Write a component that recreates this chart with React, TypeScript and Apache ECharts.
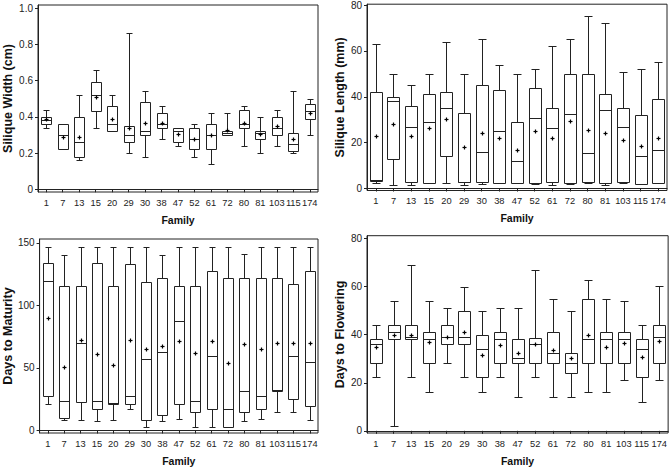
import React, { useEffect, useRef } from "react";
import * as echarts from "echarts";

const FONT = "'Liberation Sans', Arial, Helvetica, sans-serif";

const families = ["1", "7", "13", "15", "20", "29", "30", "38", "47", "52", "61", "72", "80", "81", "103", "115", "174"];

// each row: [min, Q1, median, Q3, max]
const siliqueWidthBox = [
  [0.34, 0.36, 0.38, 0.40, 0.44],
  [0.22, 0.22, 0.30, 0.36, 0.36],
  [0.16, 0.18, 0.26, 0.40, 0.52],
  [0.34, 0.43, 0.52, 0.59, 0.66],
  [0.32, 0.32, 0.36, 0.46, 0.52],
  [0.20, 0.26, 0.30, 0.35, 0.86],
  [0.18, 0.30, 0.32, 0.48, 0.54],
  [0.28, 0.34, 0.36, 0.42, 0.46],
  [0.24, 0.26, 0.32, 0.34, 0.34],
  [0.18, 0.22, 0.28, 0.34, 0.36],
  [0.14, 0.22, 0.30, 0.36, 0.42],
  [0.30, 0.30, 0.31, 0.32, 0.42],
  [0.24, 0.34, 0.36, 0.44, 0.46],
  [0.20, 0.28, 0.31, 0.32, 0.40],
  [0.24, 0.30, 0.34, 0.40, 0.44],
  [0.20, 0.21, 0.25, 0.31, 0.54],
  [0.30, 0.39, 0.43, 0.47, 0.50],
];
const siliqueWidthMean = [0.385, 0.29, 0.29, 0.51, 0.39, 0.34, 0.365, 0.365, 0.305, 0.28, 0.30, 0.325, 0.365, 0.305, 0.35, 0.28, 0.42];

const siliqueLengthBox = [
  [2.2, 3.2, 3.8, 42, 63],
  [1.4, 13, 38, 40, 50],
  [1.4, 3, 27, 36, 45],
  [2.3, 2.6, 29, 41, 50],
  [2.6, 14.2, 35, 42, 64],
  [1.4, 2.7, 3, 33, 50],
  [1.9, 3, 16.1, 45, 65],
  [2.3, 2.6, 25, 43, 54],
  [2.3, 2.6, 11.9, 29, 50],
  [2, 2.3, 30.8, 44, 52],
  [1.6, 2.9, 26.2, 35, 62],
  [2, 2.6, 32.5, 50, 65],
  [2.6, 2.7, 15.3, 50, 75],
  [1.6, 2.4, 34.1, 41, 72],
  [2.4, 3, 27, 35, 51],
  [2, 2, 14.1, 32, 52],
  [2.3, 2.6, 17, 39, 55],
];
const siliqueLengthMean = [23, 28.2, 22.9, 26.2, 30.2, 18, 24.3, 21.9, 16.7, 25.2, 21.9, 29.5, 25.5, 24.3, 21, 18.4, 22.2];

const maturityBox = [
  [21.4, 27.8, 119.8, 133.7, 147],
  [8.6, 9.9, 23.5, 115.5, 140.6],
  [8.6, 22.5, 70, 115.5, 147],
  [7.2, 17.1, 23.8, 133.7, 147],
  [8.6, 21.4, 22, 115.5, 147],
  [17.1, 21.4, 27.8, 132.9, 147],
  [2.9, 8.3, 57.5, 118.4, 147],
  [7.5, 12, 62.8, 121.9, 140.6],
  [9.1, 21.4, 87.2, 115.5, 147],
  [2.9, 14.4, 23.5, 115.5, 147],
  [2.9, 17.1, 59.4, 127.8, 147],
  [2.9, 2.9, 17.1, 121.9, 147],
  [7.2, 14.4, 31.6, 121.9, 141.2],
  [9.1, 17.1, 27.8, 121.9, 147],
  [14.4, 31.6, 32, 121.9, 147],
  [14.4, 25.1, 59.4, 116.8, 147],
  [8.3, 19.8, 55, 127.8, 147],
];
const maturityMean = [90.1, 50.5, 72.2, 61.5, 52.1, 72.2, 65, 67.6, 71.4, 62, 71.4, 53.7, 69.3, 65.5, 70, 69.8, 70];

const floweringBox = [
  [22.2, 28.1, 36.1, 38.2, 44.2],
  [2.1, 38.2, 41, 44.2, 54],
  [22.2, 38.2, 39.1, 44.2, 69],
  [16.1, 28.1, 38.2, 41.2, 54],
  [28.1, 36.1, 39.1, 44.2, 51],
  [22.2, 36.1, 39.1, 50, 60],
  [16.1, 22.2, 34.2, 39.7, 50],
  [22.2, 28.1, 38.2, 41.2, 51],
  [14.2, 28.1, 30.2, 38.2, 51],
  [22.2, 28.1, 36.1, 38.7, 67],
  [14.2, 28.1, 32.2, 41.2, 55],
  [14.2, 24.2, 28.1, 32.2, 50],
  [16.1, 28.1, 38.2, 55, 63],
  [16.1, 28.1, 38.2, 41.2, 55],
  [21.2, 28.1, 38.2, 41.2, 54],
  [12.1, 22.2, 34.2, 38.2, 44.2],
  [21.2, 28.1, 39.1, 44.2, 60.2],
];
const floweringMean = [34.7, 39.7, 40.1, 36.9, 39.1, 41.3, 31.7, 35.8, 32.6, 36.1, 33.5, 30.2, 39.9, 34.7, 36.4, 30.9, 37.6];

const widthTicks = [0, 0.2, 0.4, 0.6, 0.8, 1.0];
const lengthTicks = [0, 20, 40, 60, 80];
const maturityTicks = [0, 50, 100, 150];
const floweringTicks = [0, 20, 40, 60, 80];

const LINE = "#222";

const renderBox = (params: any, api: any) => {
  const idx = api.value(0);
  const mn = api.value(1), q1 = api.value(2), md = api.value(3), q3 = api.value(4), mx = api.value(5), mean = api.value(6);
  const cx = Math.round(api.coord([idx, md])[0]) + 0.5;
  const py = (v: number) => Math.round(api.coord([idx, v])[1]) + 0.5;
  const band = api.size([1, 0])[0];
  const hb = Math.round(band * 0.33);
  const hc = Math.round(band * 0.21);
  const st = { stroke: LINE, lineWidth: 1, fill: "none" };
  const ln = (x1: number, y1: number, x2: number, y2: number, s: any = st) => ({ type: "line", shape: { x1, y1, x2, y2 }, style: s });
  const yMn = py(mn), yQ1 = py(q1), yMd = py(md), yQ3 = py(q3), yMx = py(mx);
  const c = api.coord([idx, mean]);
  const my = Math.round(c[1]) + 0.5;
  const ps = { stroke: "#000", lineWidth: 1.2 };
  const children: any[] = [
    ln(cx, yMx, cx, yQ3),
    ln(cx - hc, yMx, cx + hc, yMx),
    ln(cx, yQ1, cx, yMn),
    ln(cx - hc, yMn, cx + hc, yMn),
    { type: "rect", shape: { x: cx - hb, y: yQ3, width: 2 * hb, height: yQ1 - yQ3 }, style: { stroke: LINE, lineWidth: 1, fill: "#fff" } },
    ln(cx - hb, yMd, cx + hb, yMd),
    ln(cx - 2, my, cx + 2, my, ps),
    ln(cx, my - 2, cx, my + 2, ps),
  ];
  return { type: "group", children };
};

const panels = [
  { name: "Silique Width (cm)", box: siliqueWidthBox, mean: siliqueWidthMean, ticks: widthTicks, min: -0.015, max: 1.0166, fmt: (v: number) => (v === 0 ? "0" : v.toFixed(1)), grid: { left: 37, top: 5, width: 281, height: 187 }, yGap: 24, xGap: 22 },
  { name: "Silique Length (mm)", box: siliqueLengthBox, mean: siliqueLengthMean, ticks: lengthTicks, min: -0.86, max: 80.35, fmt: (v: number) => String(v), grid: { left: 367, top: 2.5, width: 300, height: 188 }, yGap: 21, xGap: 22 },
  { name: "Days to Maturity", box: maturityBox, mean: maturityMean, ticks: maturityTicks, min: -2.0, max: 153.0, fmt: (v: number) => String(v), grid: { left: 37, top: 239, width: 281, height: 194.5 }, yGap: 24, xGap: 22 },
  { name: "Days to Flowering", box: floweringBox, mean: floweringMean, ticks: floweringTicks, min: -0.91, max: 81.24, fmt: (v: number) => String(v), grid: { left: 367, top: 235.7, width: 302, height: 198.8 }, yGap: 21, xGap: 22 },
];

export default function App() {
  const ref = useRef<HTMLDivElement>(null);
  useEffect(() => {
    if (!ref.current) return;
    const chart = echarts.init(ref.current, null, { renderer: "svg" });
    const axisLine = { show: true, lineStyle: { color: LINE, width: 1 } };
    const option: any = {
      animation: false,
      backgroundColor: "#fff",
      grid: panels.map((p) => ({ ...p.grid, show: true, borderColor: LINE, borderWidth: 1, backgroundColor: "transparent", containLabel: false })),
      xAxis: panels.map((p, k) => ({
        type: "category",
        gridIndex: k,
        data: families,
        boundaryGap: true,
        name: "Family",
        nameLocation: "middle",
        nameGap: p.xGap,
        nameTextStyle: { fontFamily: FONT, fontWeight: "bold", fontSize: 10.5, color: "#111" },
        axisLine,
        axisTick: { show: true, alignWithLabel: true, length: 3, lineStyle: { color: LINE } },
        axisLabel: { interval: 0, fontFamily: FONT, fontSize: 9.3, color: "#222", margin: 6 },
        splitLine: { show: false },
      })),
      yAxis: panels.map((p, k) => ({
        type: "value",
        gridIndex: k,
        min: p.min,
        max: p.max,
        name: p.name,
        nameLocation: "middle",
        nameGap: p.yGap,
        nameTextStyle: { fontFamily: FONT, fontWeight: "bold", fontSize: 12.5, color: "#111" },
        axisLine,
        axisTick: { show: true, length: 3, customValues: p.ticks, lineStyle: { color: LINE } },
        axisLabel: { customValues: p.ticks, formatter: p.fmt, fontFamily: FONT, fontSize: 10, color: "#222", margin: 5 },
        splitLine: { show: false },
      })),
      series: panels.map((p, k) => ({
        type: "custom",
        xAxisIndex: k,
        yAxisIndex: k,
        renderItem: renderBox,
        encode: { x: 0, y: [1, 2, 3, 4, 5, 6] },
        data: families.map((f, i) => [i, ...p.box[i], p.mean[i]]),
      })),
    };
    chart.setOption(option);
    return () => chart.dispose();
  }, []);
  return <div ref={ref} style={{ position: "absolute", left: 0, top: 0, width: 670, height: 467 }} />;
}
